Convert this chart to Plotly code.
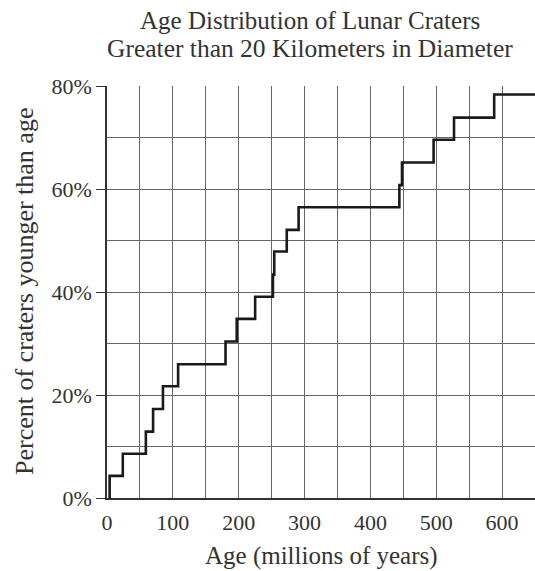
import plotly.graph_objects as go

ages = [4, 4, 24, 59, 70, 85, 108, 180, 197, 225, 252, 254, 273, 291, 444, 448, 496, 527, 588, 650]
percent = [0, 4.3, 8.6, 12.9, 17.3, 21.7, 26.0, 30.4, 34.8, 39.1, 43.4, 47.9, 52.1, 56.5, 60.8, 65.2, 69.6, 73.9, 78.4, 78.4]

x_ticks = [0, 100, 200, 300, 400, 500, 600]
y_ticks = [0, 20, 40, 60, 80]
y_tick_text = ["0%", "20%", "40%", "60%", "80%"]

title_lines = ["Age Distribution of Lunar Craters", "Greater than 20 Kilometers in Diameter"]
x_title = "Age (millions of years)"
y_title = "Percent of craters younger than age"

FONT = "Liberation Serif"
TXT = "#333333"
GRID = "#666666"

L, R, T, B = 107, 0, 86, 73
W, H = 535, 571
PW, PH = W - L - R, H - T - B


def px_x(p):
    return (p - L) / PW


def px_y(p):
    return (H - B - p) / PH


fig = go.Figure()
fig.add_trace(go.Scatter(
    x=ages, y=percent, mode="lines", line_shape="hv",
    line=dict(color="#1a1a1a", width=2.6), hoverinfo="skip", showlegend=False,
))

annos = [
    dict(text=title_lines[0], x=px_x(310), y=px_y(21), font=dict(size=25)),
    dict(text=title_lines[1], x=px_x(310), y=px_y(48), font=dict(size=25.5)),
    dict(text=x_title, x=px_x(321), y=px_y(556), font=dict(size=25)),
    dict(text=y_title, x=px_x(24), y=px_y(292), font=dict(size=26), textangle=-90),
]
for a in annos:
    a.update(xref="paper", yref="paper", xanchor="center", yanchor="middle",
             showarrow=False)
    a["font"].update(family=FONT, color=TXT)

fig.update_layout(
    width=W, height=H,
    margin=dict(l=L, r=R, t=T, b=B, autoexpand=False),
    paper_bgcolor="white", plot_bgcolor="white",
    font=dict(family=FONT, size=22, color=TXT),
    annotations=annos,
    xaxis=dict(
        range=[0, 650], tickvals=x_ticks, ticks="", showline=True, automargin=False,
        linecolor="#333333", linewidth=1.5, showgrid=True, gridcolor=GRID, gridwidth=1.2,
        minor=dict(dtick=50, tick0=0, showgrid=True, gridcolor=GRID, gridwidth=1.2),
        zeroline=False, ticklabelstandoff=4,
        tickfont=dict(size=22),
    ),
    yaxis=dict(
        range=[0, 80.05], tickvals=y_ticks, ticktext=y_tick_text, ticks="outside",
        ticklen=9, tickcolor="#333333", tickwidth=1.3, automargin=False,
        showline=True, linecolor="#333333", linewidth=1.5,
        showgrid=True, gridcolor=GRID, gridwidth=1.2,
        minor=dict(dtick=10, tick0=0, showgrid=True, gridcolor=GRID, gridwidth=1.2),
        zeroline=False,
        tickfont=dict(size=22),
    ),
)

fig.write_html("out.html", config={"displayModeBar": False},
               post_script="document.body.style.margin='0';")
